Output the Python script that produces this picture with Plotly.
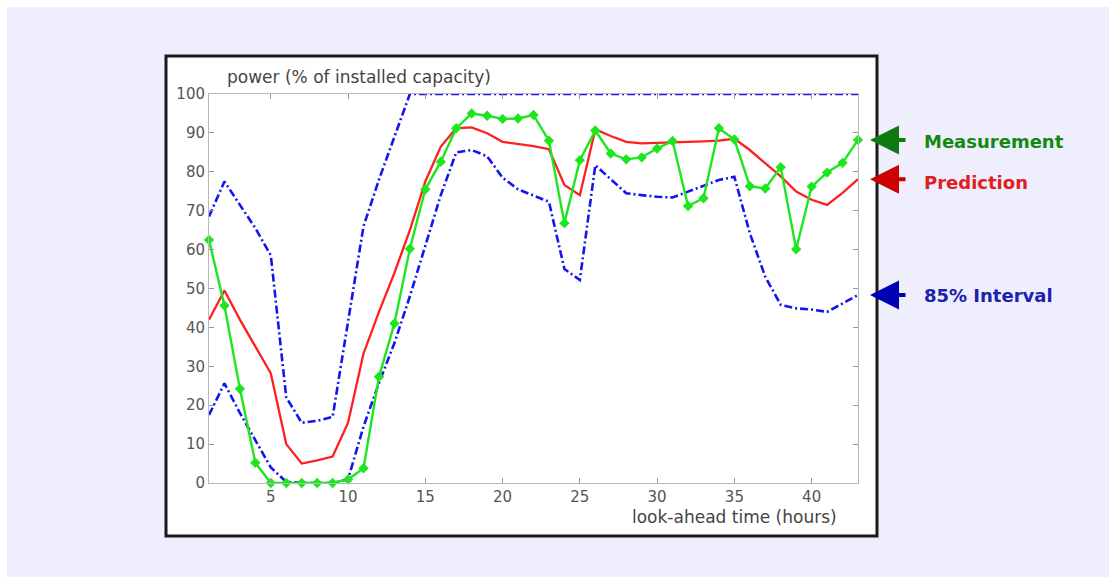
import plotly.graph_objects as go

# Look-ahead hours of the forecast
hours = list(range(1, 44))

# Measured wind power (% of installed capacity)
measurement = [62.5, 45.6, 24.2, 5.2, 0, 0, 0, 0, 0, 0.9,
               3.8, 27.3, 41.0, 60.2, 75.5, 82.6, 91.2, 95.0, 94.4, 93.6,
               93.7, 94.6, 88.0, 66.8, 83.0, 90.6, 84.7, 83.2, 83.7, 86.0,
               87.9, 71.2, 73.2, 91.2, 88.3, 76.3, 75.7, 81.2, 60.1, 76.2,
               79.8, 82.3, 88.2]

# Point forecast
prediction = [42.0, 49.5, 42.0, 35.0, 28.2, 10.0, 5.0, 5.8, 6.8, 15.5,
              33.3, 44.0, 54.0, 65.0, 77.5, 86.5, 91.2, 91.4, 89.9, 87.7,
              87.2, 86.6, 85.8, 76.6, 74.0, 90.9, 89.2, 87.7, 87.3, 87.4,
              87.5, 87.7, 87.8, 88.0, 88.5, 85.6, 82.2, 78.8, 74.9, 72.8,
              71.5, 74.6, 78.1]

# 85% prediction interval bounds
upper = [68.5, 77.5, 71.5, 65.5, 58.5, 22.0, 15.5, 16.0, 17.0, 41.0,
         66.0, 78.0, 89.0] + [100.0] * 30
lower = [17.5, 25.6, 18.0, 11.0, 4.0, 0.3, 0, 0, 0, 1.0,
         14.5, 25.7, 36.0, 48.0, 61.0, 74.0, 85.0, 85.6, 84.0, 78.5,
         75.5, 74.0, 72.3, 55.0, 52.2, 81.7, 78.0, 74.5, 74.0, 73.6,
         73.4, 74.9, 76.3, 77.9, 78.7, 64.2, 53.0, 45.8, 44.9, 44.6,
         44.0, 46.2, 48.3]

x_ticks = [5, 10, 15, 20, 25, 30, 35, 40]
y_ticks = [0, 10, 20, 30, 40, 50, 60, 70, 80, 90, 100]

W, H = 1109, 577
ML, MR, MT, MB = 209, 251, 94, 94
PW, PH = W - ML - MR, H - MT - MB


def px_x(p):
    return (p - ML) / PW


def px_y(p):
    return (H - MB - p) / PH


BLUE = "#1414f0"
RED = "#ff1f1f"
GREEN = "#1ee61e"
AXIS_FONT = dict(family="DejaVu Sans", size=15, color="#555555")
DASH = "8px,3px,2px,3px"

fig = go.Figure()
fig.add_trace(go.Scatter(x=hours, y=upper, mode="lines",
                         line=dict(color=BLUE, width=2.6, dash=DASH),
                         name="85% Interval"))
fig.add_trace(go.Scatter(x=hours, y=lower, mode="lines",
                         line=dict(color=BLUE, width=2.6, dash=DASH),
                         showlegend=False))
fig.add_trace(go.Scatter(x=hours, y=prediction, mode="lines",
                         line=dict(color=RED, width=2.3), name="Prediction"))
fig.add_trace(go.Scatter(x=hours, y=measurement, mode="lines+markers",
                         line=dict(color=GREEN, width=2.4),
                         marker=dict(symbol="diamond", size=8, color=GREEN),
                         cliponaxis=False, name="Measurement"))

shapes = [
    # slide background
    dict(type="rect", xref="paper", yref="paper", layer="below",
         x0=px_x(7), x1=px_x(W + 5), y0=px_y(H + 5), y1=px_y(7),
         fillcolor="#eeeefc", line=dict(width=0)),
    # figure frame
    dict(type="rect", xref="paper", yref="paper", layer="below",
         x0=px_x(166), x1=px_x(877), y0=px_y(536), y1=px_y(56),
         fillcolor="white", line=dict(color="#1a1a1a", width=3)),
]

annotations = [
    dict(text="power (% of installed capacity)", xref="paper", yref="paper",
         x=px_x(225), y=px_y(77), xanchor="left", yanchor="middle",
         showarrow=False, font=dict(family="DejaVu Sans", size=17, color="#444444")),
    dict(text="look-ahead time (hours)", xref="paper", yref="paper",
         x=px_x(839), y=px_y(517), xanchor="right", yanchor="middle",
         showarrow=False, font=dict(family="DejaVu Sans", size=17, color="#444444")),
]

# Arrows pointing at the last value of each series, with their labels
labels = [
    ("Measurement", measurement[-1], "#0f7a0f", "#118a11", 2),
    ("Prediction", prediction[-1], "#cc0000", "#e02020", 3),
    ("85% Interval", lower[-1], "#0000b4", "#2020b0", 0),
]
for text, val, arrow_col, text_col, shift in labels:
    annotations.append(dict(
        text="", xref="paper", yref="y", x=px_x(870), y=val,
        showarrow=True, ax=37, ay=0, axref="pixel", ayref="pixel",
        arrowhead=2, arrowsize=1.45, arrowwidth=4, arrowcolor=arrow_col))
    annotations.append(dict(
        text=text, xref="paper", yref="y", x=px_x(922), y=val, yshift=-shift,
        xanchor="left", yanchor="middle", showarrow=False,
        font=dict(family="DejaVu Sans", size=18, color=text_col, weight="bold")))

fig.update_layout(
    width=W, height=H,
    margin=dict(l=ML, r=MR, t=MT, b=MB, pad=0),
    paper_bgcolor="white", plot_bgcolor="white",
    showlegend=False,
    shapes=shapes, annotations=annotations,
    xaxis=dict(range=[1, 43], tickvals=x_ticks, ticktext=[str(v) for v in x_ticks],
               showgrid=False, zeroline=False, showline=True, linecolor="#b8b8b8",
               linewidth=1, mirror="allticks", ticks="inside", ticklen=5,
               tickcolor="#999999", tickfont=AXIS_FONT),
    yaxis=dict(range=[0, 100], tickvals=y_ticks, ticktext=[str(v) for v in y_ticks],
               showgrid=False, zeroline=False, showline=True, linecolor="#b8b8b8",
               linewidth=1, mirror="allticks", ticks="inside", ticklen=5,
               tickcolor="#999999", tickfont=AXIS_FONT),
)

fig.write_html("out.html")
